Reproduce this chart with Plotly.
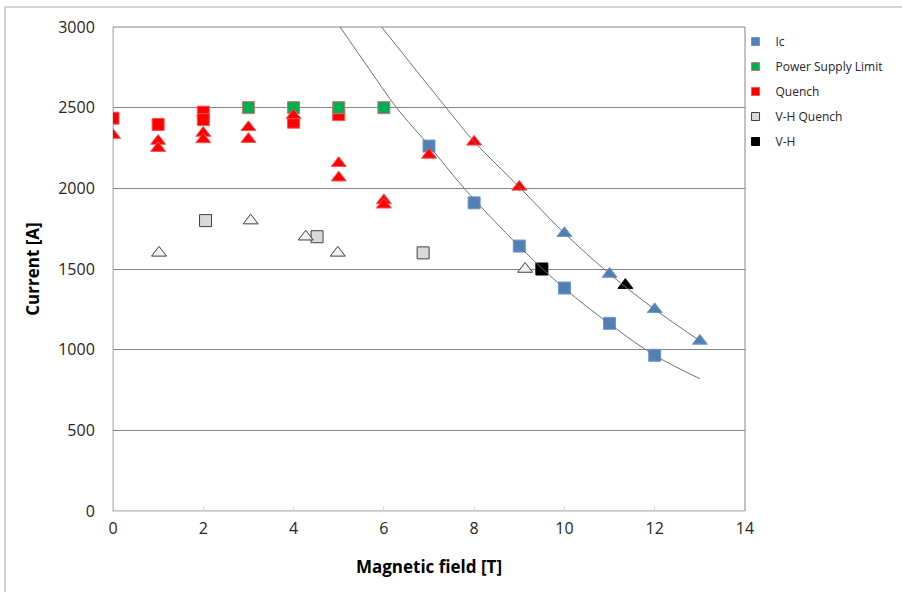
import plotly.graph_objects as go

# ---- data ----
ic_sq_x = [7, 8, 9, 10, 11, 12]
ic_sq_y = [2262, 1910, 1642, 1382, 1163, 965]
ic_tri_x = [10, 11, 12, 13]
ic_tri_y = [1722, 1469, 1250, 1054]

psl_x = [3, 4, 5, 6]
psl_y = [2500, 2500, 2500, 2500]

quench_sq_x = [0, 1, 2, 2, 4, 5]
quench_sq_y = [2435, 2396, 2472, 2426, 2410, 2457]
quench_tri_x = [0, 1, 1, 2, 2, 3, 3, 4, 5, 5, 6, 6, 7, 8, 9]
quench_tri_y = [2330, 2293, 2249, 2343, 2303, 2378, 2305, 2452, 2156, 2066, 1925, 1898, 2207, 2288, 2009]

vhq_sq_x = [2.05, 4.52, 6.87]
vhq_sq_y = [1800, 1700, 1600]
vhq_tri_x = [1.02, 3.05, 4.27, 4.98, 9.13]
vhq_tri_y = [1600, 1800, 1700, 1600, 1500]

vh_sq_x = [9.5]
vh_sq_y = [1500]
vh_tri_x = [11.35]
vh_tri_y = [1400]

# fitted curves
fit_low_x = [5.03, 5.69, 6.28, 7.0, 7.78, 9.0, 10.0, 11.0, 12.0, 13.0]
fit_low_y = [3000, 2734, 2500, 2265, 2000, 1640, 1380, 1160, 965, 820]
fit_up_x = [5.95, 7.38, 8.0, 9.0, 10.0, 11.0, 12.0, 13.0]
fit_up_y = [3000, 2500, 2290, 2008, 1722, 1470, 1250, 1055]

legend_names = ["Ic", "Power Supply Limit", "Quench", "V-H Quench", "V-H"]

x_ticks = [0, 2, 4, 6, 8, 10, 12, 14]
y_ticks = [0, 500, 1000, 1500, 2000, 2500, 3000]

BLUE = "#4f81bd"
GREEN = "#00b050"
RED = "#ff0000"
LGRAY = "#d9d9d9"
FONT = "Open Sans"

styles = {
    "Ic": (BLUE, "#6d97cc"),
    "Power Supply Limit": (GREEN, "#d07070"),
    "Quench": (RED, "#ff5050"),
    "V-H Quench": (LGRAY, "#404040"),
    "V-H": ("#000000", "#000000"),
}

fig = go.Figure()

def sq(x, y, name):
    c, e = styles[name]
    fig.add_trace(go.Scatter(
        x=x, y=y, mode="markers", name=name, showlegend=False,
        marker=dict(symbol="square", size=12, color=c, line=dict(color=e, width=1))))

def tri(x, y, name, fill=None):
    c, e = styles[name]
    fig.add_trace(go.Scatter(
        x=x, y=y, mode="markers", name=name, showlegend=False,
        marker=dict(symbol="triangle-up", size=13, color=fill or c,
                    line=dict(color=e, width=1))))

sq(ic_sq_x, ic_sq_y, "Ic")
sq(quench_sq_x, quench_sq_y, "Quench")
sq(psl_x, psl_y, "Power Supply Limit")
sq(vhq_sq_x, vhq_sq_y, "V-H Quench")
sq(vh_sq_x, vh_sq_y, "V-H")

tri(ic_tri_x, ic_tri_y, "Ic")
tri(quench_tri_x, quench_tri_y, "Quench")
tri(vhq_tri_x, vhq_tri_y, "V-H Quench", fill="#f2f2f2")
tri(vh_tri_x, vh_tri_y, "V-H")

for fx, fy in [(fit_low_x, fit_low_y), (fit_up_x, fit_up_y)]:
    fig.add_trace(go.Scatter(
        x=fx, y=fy, mode="lines", showlegend=False, hoverinfo="skip",
        line=dict(color="#707070", width=1, shape="spline", smoothing=1.0)))

# legend entries (small square keys, as in the reference)
for i, name in enumerate(legend_names):
    c, e = styles[name]
    fig.add_trace(go.Scatter(
        x=[None], y=[None], mode="markers", name=name, showlegend=True,
        legendgroup=name, legendrank=i + 1,
        marker=dict(symbol="square", size=8, color=c, line=dict(color=e, width=1))))

# plot-area frame and outer chart border
fig.add_shape(type="rect", xref="paper", yref="paper", x0=0, x1=1, y0=0, y1=1,
              line=dict(color="#868686", width=1), layer="below")
fig.add_shape(type="rect", xref="paper", yref="paper",
              x0=(5 - 113) / 632, x1=(910 - 113) / 632,
              y0=(511 - 610) / 484, y1=(511 - 7) / 484,
              line=dict(color="#a6a6a6", width=1), layer="below")

fig.update_layout(
    width=902, height=592,
    margin=dict(l=113, r=157, t=27, b=81),
    paper_bgcolor="white", plot_bgcolor="white",
    font=dict(family=FONT, color="#262626"),
    showlegend=True,
    legend=dict(x=0.985, xanchor="left", y=1.0, yanchor="top",
                font=dict(size=12, family=FONT, color="#262626"),
                bgcolor="rgba(0,0,0,0)", tracegroupgap=6,
                itemsizing="trace"),
    xaxis=dict(range=[0, 14], tickvals=x_ticks, ticktext=[str(v) for v in x_ticks],
               showgrid=False, zeroline=False, showline=True, linecolor=LGRAY,
               linewidth=1, ticks="inside", ticklen=5, tickcolor=LGRAY,
               ticklabelstandoff=3,
               tickfont=dict(size=16, family=FONT, color="#262626"),
               title=dict(text="<b>Magnetic field [T]</b>", standoff=22,
                          font=dict(size=17, family=FONT, color="#000000"))),
    yaxis=dict(range=[0, 3000], tickvals=y_ticks, ticktext=[str(v) for v in y_ticks],
               showgrid=True, gridcolor="#868686", gridwidth=1,
               zeroline=False, showline=True, linecolor=LGRAY, linewidth=1,
               ticks="", ticklabelstandoff=14,
               tickfont=dict(size=16, family=FONT, color="#262626"),
               title=dict(text="<b>Current [A]</b>", standoff=14,
                          font=dict(size=17, family=FONT, color="#000000"))),
)

fig.write_html("out.html", config={"displayModeBar": False},
               post_script="document.body.style.margin='0';document.body.style.padding='0';")
